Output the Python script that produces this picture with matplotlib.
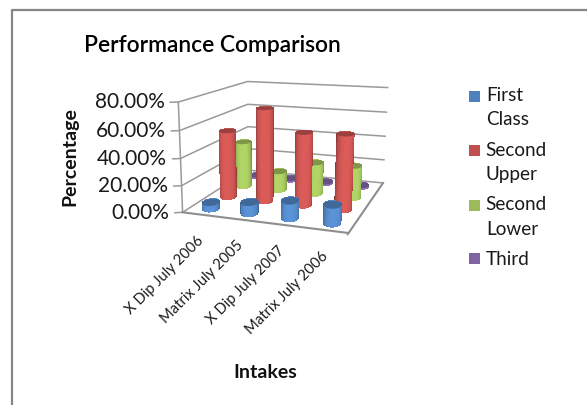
import numpy as np
import matplotlib
matplotlib.use("Agg")
import matplotlib.pyplot as plt
from matplotlib.lines import Line2D
from matplotlib.patches import Patch, Rectangle
from matplotlib.legend_handler import HandlerPatch
from mpl_toolkits.mplot3d.art3d import Poly3DCollection

W, H = 587, 405
categories = ["X Dip July 2006", "Matrix July 2005", "X Dip July 2007", "Matrix July 2006"]
series_names = ["First\nClass", "Second\nUpper", "Second\nLower", "Third"]
first_class = [4.5, 8.0, 12.5, 13.0]
second_upper = [52.0, 71.0, 55.0, 56.0]
second_lower = [37.0, 15.0, 25.0, 25.0]
third = [1.0, 1.0, 1.0, 1.0]
z_ticks = [0, 20, 40, 60, 80]
z_labels = ["0.00%", "20.00%", "40.00%", "60.00%", "80.00%"]
colors = ["#4F81BD", "#C0504D", "#9BBB59", "#8064A2"]

plt.rcParams["font.family"] = ["Lato", "DejaVu Sans"]
fig = plt.figure(figsize=(W / 100, H / 100), dpi=100, facecolor="white")
ax = fig.add_axes([0, (1 - W / H) / 2, 1, W / H], projection="3d", computed_zorder=False)
ax.set_axis_off()
ax.set_proj_type("ortho")
ax.set_xlim(0, 4); ax.set_ylim(0, 4); ax.set_zlim(0, 80)

# camera: fitted to the box corners of the reference chart
world = np.array([[0,0,0],[4,0,0],[4,4,0],[0,4,0],[0,0,80],[0,4,80],[4,4,80],[0,0,40],[0,4,40],[4,4,40]], float)
pix = np.array([[183,211],[349,234],[383,182],[248,172],[178,103],[248,81],[388,88],[180,158],[248,126],[385,136]], float)
pix[:, 1] = H - pix[:, 1]
A = []; b = []
for (x, y, z), (u, v) in zip(world, pix):
    A.append([x, y, z, 1, 0, 0, 0, 0, -u*x, -u*y, -u*z]); b.append(u)
    A.append([0, 0, 0, 0, x, y, z, 1, -v*x, -v*y, -v*z]); b.append(v)
p = np.linalg.lstsq(np.array(A), np.array(b), rcond=None)[0]
P = np.array([p[:4], p[4:8], np.r_[p[8:11], 1.0]])

def get_proj():
    T = ax.transData.inverted().get_matrix()
    M = np.zeros((4, 4))
    M[0] = T[0, 0] * P[0] + T[0, 2] * P[2]
    M[1] = T[1, 1] * P[1] + T[1, 2] * P[2]
    M[3] = P[2]
    M[2] = P[2] - np.array([0, 0, 0, 0.5])
    return M
ax.get_proj = get_proj

def to_page(x, y, z=0.0):
    q = P @ np.array([x, y, z, 1.0])
    return q[:2] / q[2]

grid = dict(color="#999999", lw=1.1, solid_capstyle="round", zorder=1)
for z in z_ticks:
    ax.plot([-0.16, 0, 0, 4], [-0.09, 0, 4, 4], [z, z, z, z], **grid)
ax.plot([0, 0], [0, 0], [0, 80], **grid)
ax.plot([0, 4, 4], [0, 0, 4], [0, 0, 0], color="#8e8e8e", lw=1.5, zorder=1)
ax.plot([4, 4.0], [0, -0.1], [0, 0], color="#8e8e8e", lw=1.1, zorder=1)

for z, s in zip(z_ticks, z_labels):
    u, v = to_page(-0.26, -0.15, z)
    fig.text(u / W, v / H, s, ha="right", va="center", fontsize=15, color="#1a1a1a")
for i, c in enumerate(categories):
    u, v = to_page(i + 0.5, 0) + np.array([-5, -19])
    fig.text(u / W, v / H, c, rotation=45, ha="right", va="top", rotation_mode="anchor",
             fontsize=10.6, color="#1a1a1a")

def shade(base, f):
    base = np.array(matplotlib.colors.to_rgb(base))
    dark = base * 0.66
    light = np.clip(base * 1.14, 0, 1)
    return np.r_[dark + (light - dark) * f, 1]

# unit steps in (x, y) that read as one pixel right / one pixel up on the page
SCREEN_H = np.array([0.0200, 0.0115])
SCREEN_V = np.array([-0.0319, 0.0817])

def cylinder(cx, cy, h, col, zo):
    half_w, half_h = 8.8, 3.2
    th = np.linspace(0, 2 * np.pi, 49)
    zz = np.array([0, h])
    T, Z = np.meshgrid(th, zz)
    X = cx + half_w * np.cos(T) * SCREEN_H[0] + half_h * np.sin(T) * SCREEN_V[0]
    Y = cy + half_w * np.cos(T) * SCREEN_H[1] + half_h * np.sin(T) * SCREEN_V[1]
    mid = (th[:-1] + th[1:]) / 2
    f = np.abs(np.sin(mid)) ** 0.7
    fc = np.array([[shade(col, v) for v in f]])
    ax.plot_surface(X, Y, Z, rstride=1, cstride=1, facecolors=fc, shade=False, lw=0, antialiased=False, zorder=zo)
    cap = list(zip(X[0], Y[0], np.full_like(th, h)))
    ax.add_collection3d(Poly3DCollection([cap], facecolors=[shade(col, 0.3)], edgecolors="none", zorder=zo + 0.5))

all_series = [first_class, second_upper, second_lower, third]
for j in range(3, -1, -1):
    for i in range(4):
        cylinder(i + 0.5, j + 0.5, all_series[j][i], colors[j], 10 + (3 - j) * 4 + (3 - i) * 0.6)

# chart frame, title and axis titles
fig.add_artist(Line2D([12 / W, 12 / W, 1], [0, 1 - 10 / H, 1 - 10 / H], color="#868686", lw=1.6))
fig.text(84 / W, 1 - 46 / H, "Performance Comparison", fontsize=16.4, fontweight="semibold", va="center", color="black")
fig.text(70 / W, 1 - 157 / H, "Percentage", fontsize=14, fontweight="bold", rotation=90, ha="center", va="center", color="#111111")
fig.text(265 / W, 1 - 372 / H, "Intakes", fontsize=14, fontweight="bold", ha="center", va="center", color="#111111")

def square(lift):
    def make(legend=None, orig_handle=None, xdescent=0, ydescent=0, width=0, height=0, fontsize=0):
        return Rectangle((-xdescent, -ydescent + lift), width, width)
    return make

handles = [Patch(facecolor=c, edgecolor="none") for c in colors]
hmap = {h: HandlerPatch(patch_func=square(8.8 if "\n" in n else 0)) for h, n in zip(handles, series_names)}
leg = fig.legend(handles, series_names, handler_map=hmap, loc="upper left", bbox_to_anchor=(452 / W, 1 - 70 / H),
                 frameon=False, fontsize=13.6, handlelength=0.59, handleheight=0.59, handletextpad=0.3,
                 labelspacing=0.7, labelcolor="#1a1a1a")
for t in leg.get_texts():
    t.set_linespacing(1.53)

fig.savefig("out.png", dpi=100)
